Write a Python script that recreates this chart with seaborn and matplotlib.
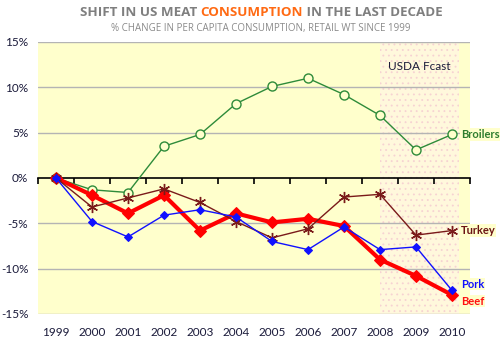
import matplotlib
matplotlib.use("Agg")
import matplotlib.pyplot as plt
import seaborn as sns
import numpy as np
import pandas as pd

years = ["1999", "2000", "2001", "2002", "2003", "2004", "2005", "2006", "2007", "2008", "2009", "2010"]
broilers = [0, -1.3, -1.6, 3.5, 4.8, 8.2, 10.1, 11.0, 9.2, 6.9, 3.1, 4.8]
beef = [0, -1.9, -3.9, -1.9, -5.8, -3.9, -4.9, -4.5, -5.3, -9.0, -10.8, -12.9]
turkey = [0, -3.2, -2.2, -1.2, -2.7, -4.8, -6.6, -5.6, -2.1, -1.8, -6.3, -5.8]
pork = [0, -4.8, -6.5, -4.1, -3.5, -4.3, -7.0, -7.9, -5.4, -7.9, -7.6, -12.4]
yticks = [-15, -10, -5, 0, 5, 10, 15]

sns.set_theme(style="white")
plt.rcParams['font.family'] = ['DejaVu Sans']
plt.rcParams['hatch.linewidth'] = 0.6

W, H = 501, 342
fig = plt.figure(figsize=(W / 100, H / 100), dpi=100)
ax = fig.add_axes([38 / W, 28 / H, (470 - 38) / W, (314 - 42) / H])
bg = "#ffffcc"
ax.set_facecolor(bg)

x = np.arange(len(years))

# forecast shading
ax.axvspan(9.0, 11.2, facecolor="#fff8dc", edgecolor="#f6d2d2", hatch="...", linewidth=0, zorder=0.5)

for v in yticks:
    if v != 0:
        ax.axhline(v, color="#b4b4b4", lw=1, zorder=1)

series = [
    ("Broilers", broilers, dict(color="#2e8b3a", lw=1, marker="o", markersize=6.5, markerfacecolor=bg,
                                 markeredgecolor="#2e8b3a", markeredgewidth=1)),
    ("Beef", beef, dict(color="#ff0000", lw=3, marker="D", markersize=6.5, markerfacecolor="#ff0000",
                         markeredgecolor="#ff0000")),
    ("Turkey", turkey, dict(color="#7a1a1a", lw=1, marker=(6, 2, 0), markersize=8, markeredgecolor="#7a1a1a",
                             markeredgewidth=1)),
    ("Pork", pork, dict(color="#1010ff", lw=1, marker="D", markersize=4.5, markerfacecolor="#1010ff",
                         markeredgecolor="#1010ff")),
]
for name, vals, kw in series:
    df = pd.DataFrame({"x": x, "y": vals})
    sns.lineplot(data=df, x="x", y="y", ax=ax, zorder=3, **kw)

ax.set_xlim(-0.5, 11.5)
ax.set_ylim(-15, 15)
ax.set_yticks(yticks)
ax.set_yticklabels([f"{v}%" for v in yticks], fontsize=8.5, color="#1a1a3a", family="Lato")
ax.tick_params(axis="y", length=0, pad=7)
ax.set_xlabel("")
ax.set_ylabel("")
for s in ["top", "right", "left"]:
    ax.spines[s].set_visible(False)
ax.spines["bottom"].set_position(("data", 0))
ax.spines["bottom"].set_color("black")
ax.spines["bottom"].set_linewidth(1.2)
ax.spines["bottom"].set_zorder(2)
ax.set_xticks(np.arange(-0.5, 12, 1))
ax.set_xticklabels([])
ax.tick_params(axis="x", direction="out", length=4, width=1.2, color="black", bottom=True)
ax.grid(False)

sec = ax.secondary_xaxis(0)
sec.set_xticks(x)
sec.set_xticklabels(years, fontsize=8.5, color="#1a1a3a", family="Lato")
sec.tick_params(length=0, pad=9)
sec.spines["bottom"].set_visible(False)

# series labels
labels = [("Broilers", broilers[-1], "#2e7d2e", 0.0), ("Turkey", turkey[-1], "#6b1414", 0.0),
          ("Pork", pork[-1], "#1010ff", 0.7), ("Beef", beef[-1], "#ff1010", -0.7)]
for name, yv, col, dy in labels:
    ax.text(11.25, yv + dy, name, color=col, fontsize=8, fontweight="bold", va="center", ha="left",
            family="Lato", clip_on=False, zorder=4,
            bbox=dict(facecolor=bg, edgecolor="none", pad=0.5))

ax.text(10.1, 12.3, "USDA Fcast", fontsize=8.5, color="#1a1a3a", ha="center", va="center", family="Lato")

# title with coloured word
fig.canvas.draw()
r = fig.canvas.get_renderer()
parts = [("SHIFT IN US MEAT ", "#7f7f7f"), ("CONSUMPTION", "#ff6a13"), (" IN THE LAST DECADE", "#7f7f7f")]
texts = []
for t, c in parts:
    tt = fig.text(0, 1 - 12 / H, t, color=c, fontsize=9.6, fontweight="bold", va="center", ha="left",
                  family="Open Sans")
    texts.append(tt)
widths = [tt.get_window_extent(r).width for tt in texts]
total = sum(widths)
xpos = (261 - total / 2)
for tt, w in zip(texts, widths):
    tt.set_x(xpos / W)
    xpos += w
fig.text(261 / W, 1 - 28 / H, "% CHANGE IN PER CAPITA CONSUMPTION, RETAIL WT SINCE 1999", color="#8a8a8a",
         fontsize=7, ha="center", va="center", family="Open Sans")

fig.savefig("out.png", dpi=100)
